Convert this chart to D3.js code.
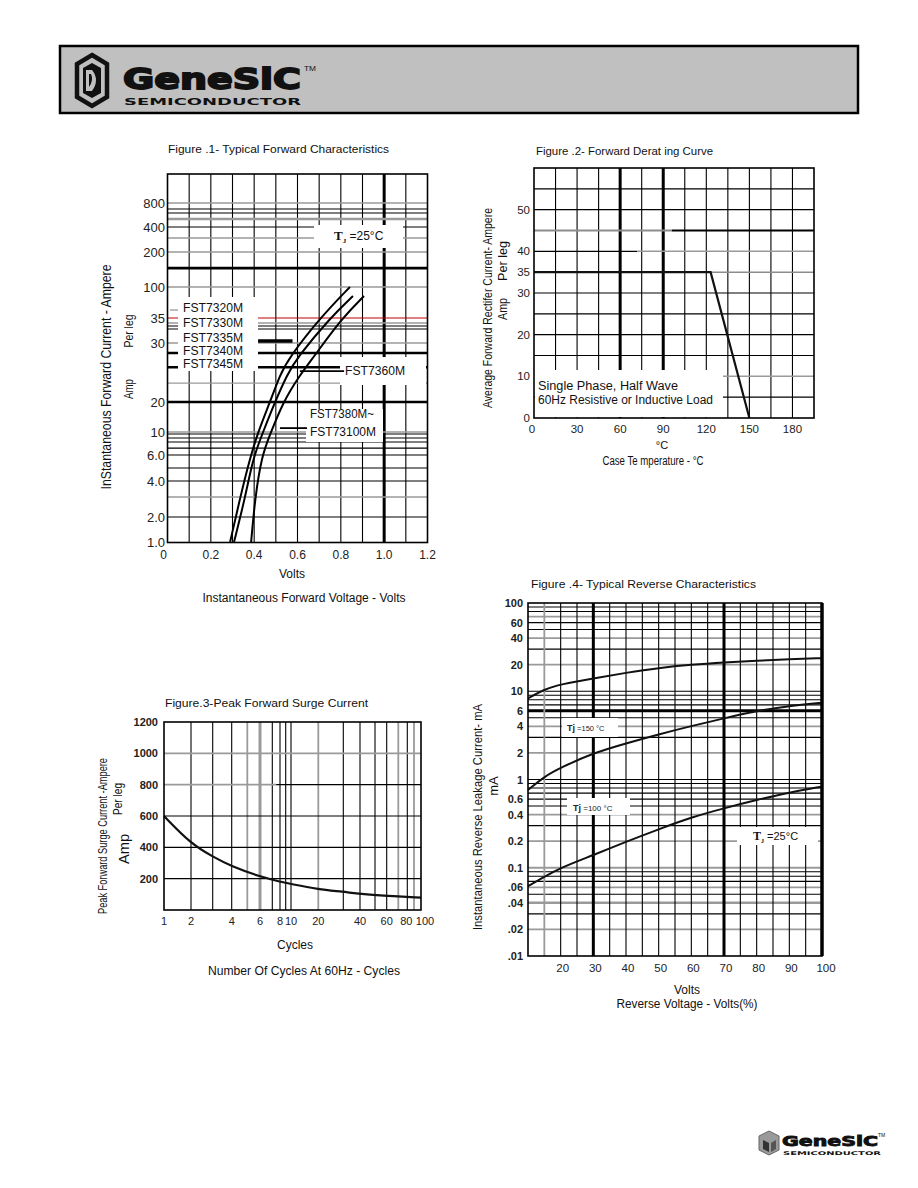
<!DOCTYPE html>
<html><head><meta charset="utf-8">
<script src="https://cdn.jsdelivr.net/npm/d3@7"></script>
<style>body{margin:0;background:#fff}svg{display:block}</style>
</head><body>
<svg id="page" width="918" height="1188"></svg>
<script>
// ================= DATA =================
// Figure 1 - Typical Forward Characteristics
const fig1XTicks = [0, 0.2, 0.4, 0.6, 0.8, 1.0, 1.2];
const fig1XTickLabels = ["0", "0.2", "0.4", "0.6", "0.8", "1.0", "1.2"];
const fig1YTicks = [1, 2, 4, 6, 10, 20, 30, 35, 100, 200, 400, 800];
const fig1YTickLabels = ["1.0", "2.0", "4.0", "6.0", "10", "20", "30", "35", "100", "200", "400", "800"];
const fig1CurveA = [[0.289,1],[0.335,3.06],[0.381,5.77],[0.418,10],[0.473,20],[0.519,24.6],[0.561,27.5],[0.704,35],[0.842,100]];
const fig1CurveB = [[0.307,1],[0.358,3.06],[0.395,5.77],[0.436,9.5],[0.496,20],[0.552,24.6],[0.598,27.5],[0.750,35],[0.856,81]];
const fig1CurveC = [[0.386,1],[0.404,3.06],[0.436,6],[0.473,9.5],[0.533,20],[0.612,24.6],[0.672,27.5],[0.806,35],[0.907,81]];
const fig1SeriesLabels = ["FST7320M", "FST7330M", "FST7335M", "FST7340M", "FST7345M"];
const fig1GridBlack = [700, 633, 400, 33.4, 32.8, 9.65, 8.96, 8.26, 7.2, 6, 5, 4, 2];
const fig1GridGrey = [800, 533, 312, 200, 100, 34, 30, 23.2, 10, 3.11];
const fig1GridThick = [154, 28.3, 25.9, 20];
const fig1GridRed = [35];

// Figure 2 - Forward Derating Curve
const fig2XTicks = [0, 30, 60, 90, 120, 150, 180];
const fig2YTicks = [0, 10, 20, 30, 35, 40, 50];
const fig2Curve = [[0, 35], [123, 35], [150, 0]];

// Figure 3 - Peak Forward Surge Current
const fig3XTicks = [1, 2, 4, 6, 8, 10, 20, 40, 60, 80, 100];
const fig3YTicks = [200, 400, 600, 800, 1000, 1200];
const fig3Cycles = [1, 2, 3, 4, 6, 8, 10, 20, 30, 40, 60, 100];
const fig3Current = [600, 422, 341, 277, 213, 181, 166, 132, 117, 102, 90, 79];
const fig3GridBlack = [2, 3, 4, 7, 8, 9, 10, 30, 40, 50, 60, 80];
const fig3GridGrey = [5, 6, 20, 70, 90];

// Figure 4 - Typical Reverse Characteristics
const fig4XTicks = [20, 30, 40, 50, 60, 70, 80, 90, 100];
const fig4YTicks = [100, 60, 40, 20, 10, 6, 4, 2, 1, 0.6, 0.4, 0.2, 0.1, 0.06, 0.04, 0.02, 0.01];
const fig4YTickLabels = ["100", "60", "40", "20", "10", "6", "4", "2", "1", "0.6", "0.4", "0.2", "0.1", ".06", ".04", ".02", ".01"];
const fig4Volts = [10, 15, 20, 30, 40, 50, 60, 70, 80, 90, 100];
const fig4Tj150 = [8.3, 10.5, 12.0, 14.0, 16.2, 18.4, 20.0, 21.2, 22.2, 23.0, 23.7];
const fig4Tj100 = [0.76, 1.08, 1.36, 2.0, 2.57, 3.25, 4.04, 4.93, 6.0, 6.8, 7.4];
const fig4Tj25 = [0.062, 0.079, 0.1, 0.139, 0.197, 0.273, 0.373, 0.472, 0.586, 0.715, 0.83];

// ================= LAYOUT =================
const NARROW = "'Liberation Sans Narrow','Liberation Sans',Arial,sans-serif";
const SANS = "'Liberation Sans',Arial,sans-serif";
const svg = d3.select("#page");

function label(g, x, y, s, o = {}) {
  const t = g.append("text").attr("x", x).attr("y", y).text(s)
    .attr("font-family", o.family || SANS)
    .attr("font-size", o.size || 11)
    .attr("fill", o.fill || "#111")
    .attr("text-anchor", o.anchor || "start");
  if (o.weight) t.attr("font-weight", o.weight);
  if (o.len) t.attr("textLength", o.len).attr("lengthAdjust", "spacingAndGlyphs");
  if (o.rot) t.attr("transform", `rotate(-90,${x},${y})`);
  return t;
}
function hline(g, y, x1, x2, color, w) {
  g.append("line").attr("x1", x1).attr("x2", x2).attr("y1", y).attr("y2", y)
    .attr("stroke", color).attr("stroke-width", w);
}
function vline(g, x, y1, y2, color, w) {
  g.append("line").attr("x1", x).attr("x2", x).attr("y1", y1).attr("y2", y2)
    .attr("stroke", color).attr("stroke-width", w);
}
function whiteBox(g, x, y, w, h) {
  g.append("rect").attr("x", x).attr("y", y).attr("width", w).attr("height", h).attr("fill", "#fff");
}

// ---------- Header ----------
const hdr = svg.append("g");
hdr.append("rect").attr("x", 60).attr("y", 46).attr("width", 798).attr("height", 67)
  .attr("fill", "#c0c0c0").attr("stroke", "#000").attr("stroke-width", 2.5);
hdr.append("path").attr("d", "M92,55 L107,64 L107,97 L92,106 L77,97 L77,64 Z")
  .attr("fill", "none").attr("stroke", "#111").attr("stroke-width", 4.5);
hdr.append("path").attr("d", "M92,63 L101,68 L101,93 L92,98 L83,93 L83,68 Z").attr("fill", "#111");
hdr.append("path").attr("d", "M86,70 L92,70 Q100,80 92,91 L86,91 Z M89,74 L89,87 Q94,80 91,74 Z")
  .attr("fill", "#c0c0c0").attr("fill-rule", "evenodd");
label(hdr, 123, 89, "GeneSiC", { family: "'DejaVu Sans',sans-serif", size: 29, weight: 900, fill: "#111", len: 178 })
  .attr("stroke", "#111").attr("stroke-width", 1.8);
label(hdr, 304, 71, "TM", { size: 8, fill: "#111", len: 12 });
label(hdr, 124, 105, "SEMICONDUCTOR", { family: "'DejaVu Sans',sans-serif", size: 8, weight: 700, fill: "#111", len: 177 });

// ---------- Footer ----------
const ftr = svg.append("g");
ftr.append("path").attr("d", "M769,1131 L779,1136 L779,1150 L769,1155 L759,1150 L759,1136 Z")
  .attr("fill", "#9a9a9a").attr("stroke", "#666").attr("stroke-width", 1);
ftr.append("path").attr("d", "M763,1140 L769,1143 L769,1152 L763,1149 Z").attr("fill", "#333");
ftr.append("path").attr("d", "M771,1143 L776,1140 L776,1149 L771,1152 Z").attr("fill", "#555");
label(ftr, 782, 1146, "GeneSiC", { family: "'DejaVu Sans',sans-serif", size: 14, weight: 900, fill: "#111", len: 96 })
  .attr("stroke", "#111").attr("stroke-width", 0.9);
label(ftr, 878, 1137, "TM", { size: 5, fill: "#111" });
label(ftr, 783, 1155, "SEMICONDUCTOR", { family: "'DejaVu Sans',sans-serif", size: 5, weight: 700, fill: "#111", len: 98 });

// ================= FIGURE 1 =================
(function () {
  const g = svg.append("g");
  const L = 167.5, R = 427.5, T = 174, B = 542.5;
  const x = d3.scaleLinear().domain([0, 1.2]).range([L, R]);
  // chart paper uses an irregular current axis: piecewise scale through the printed tick positions
  const y = d3.scaleLinear().domain(fig1YTicks).range([542, 517, 481, 455, 432, 402, 343, 318, 287, 252, 227, 203]);

  d3.range(1, 12).forEach(i => {
    const v = i / 10;
    vline(g, x(v), T, B, "#000", Math.abs(v - 1.0) < 1e-6 ? 3 : 1.1);
  });
  fig1GridGrey.forEach(v => hline(g, y(v), L, R, "#9a9a9a", v === 533 ? 2.5 : 1.3));
  fig1GridBlack.forEach(v => hline(g, y(v), L, R, "#000", 1.1));
  fig1GridThick.forEach(v => hline(g, y(v), L, R, "#000", 2.6));
  fig1GridRed.forEach(v => hline(g, y(v), L, R, "#c00000", 1.2));

  whiteBox(g, 178, 297, 80, 74);
  whiteBox(g, 314, 225, 89, 23);
  whiteBox(g, 340, 357, 86, 28);
  whiteBox(g, 306, 409, 77, 33);

  hline(g, 310, 170, 178, "#9a9a9a", 1.3);
  g.append("line").attr("x1", x(0.418)).attr("x2", x(0.577)).attr("y1", y(30.4)).attr("y2", y(30.4))
    .attr("stroke", "#000").attr("stroke-width", 3.5);
  g.append("line").attr("x1", x(0.611)).attr("x2", x(0.815)).attr("y1", y(25.25)).attr("y2", y(25.25))
    .attr("stroke", "#000").attr("stroke-width", 1.8);
  g.append("line").attr("x1", x(0.519)).attr("x2", x(0.644)).attr("y1", y(11.3)).attr("y2", y(11.3))
    .attr("stroke", "#000").attr("stroke-width", 1.8);

  const line = d3.line().x(d => x(d[0])).y(d => y(d[1])).curve(d3.curveBasis);
  [fig1CurveA, fig1CurveB, fig1CurveC].forEach(c => {
    g.append("path").attr("d", line(c)).attr("fill", "none").attr("stroke", "#000").attr("stroke-width", 2);
  });

  g.append("rect").attr("x", L).attr("y", T).attr("width", R - L).attr("height", B - T)
    .attr("fill", "none").attr("stroke", "#000").attr("stroke-width", 1.6);

  fig1YTicks.forEach((v, i) => label(g, 165, y(v) + 4.5, fig1YTickLabels[i], { family: NARROW, size: 13, anchor: "end", fill: "#222" }));
  fig1XTicks.forEach((v, i) => label(g, x(v) - (i === 0 ? 4 : 0), 559, fig1XTickLabels[i], { family: SANS, size: 12, anchor: "middle", fill: "#222" }));

  const sy = [312, 327, 342, 355, 368];
  fig1SeriesLabels.forEach((s, i) => label(g, 183, sy[i], s, { family: SANS, size: 12, fill: "#111", len: 60 }));
  label(g, 345, 375, "FST7360M", { size: 12, len: 60 });
  label(g, 310, 418, "FST7380M~", { size: 12, len: 64 });
  label(g, 310, 436, "FST73100M", { size: 12, len: 66 });
  const tj = label(g, 334, 240, "T", { family: "'Liberation Serif',serif", size: 13, weight: 700 });
  tj.append("tspan").attr("font-size", 7).attr("dy", 3).text("J");
  tj.append("tspan").attr("font-size", 12).attr("dy", -3).attr("font-family", SANS).attr("font-weight", 400).text(" =25\u00B0C");

  label(g, 168, 153, "Figure .1- Typical Forward Characteristics", { size: 11, len: 221 });
  label(g, 292, 578, "Volts", { size: 12, anchor: "middle", family: NARROW });
  label(g, 304, 602, "Instantaneous  Forward Voltage - Volts", { size: 12, anchor: "middle", len: 203 });
  label(g, 111, 377, "InStantaneous Forward Current - Ampere", { family: NARROW, size: 14, anchor: "middle", len: 225, rot: true });
  label(g, 133, 331, "Per leg", { family: NARROW, size: 13, anchor: "middle", len: 33, rot: true });
  label(g, 133, 389, "Amp", { family: NARROW, size: 13, anchor: "middle", len: 20, rot: true });
})();

// ================= FIGURE 2 =================
(function () {
  const g = svg.append("g");
  const L = 534, R = 814, T = 168, B = 418;
  const x = d3.scaleLinear().domain([0, 195]).range([L, R]);
  const y = d3.scaleLinear().domain([0, 60]).range([B, T]);

  d3.range(15, 195, 15).forEach(v => vline(g, x(v), T, B, "#000", (v === 60 || v === 90) ? 3 : 1.1));
  d3.range(5, 60, 5).forEach(v => {
    if (v === 45) {
      hline(g, y(v), L, x(96), "#8c8c8c", 2);
      hline(g, y(v), x(96), R, "#000", 2);
    } else if (v === 40) {
      hline(g, y(v), L, x(72), "#000", 1.1);
      hline(g, y(v), x(72), R, "#9a9a9a", 1.5);
    } else if (v === 35) {
      hline(g, y(v), L, R, "#8c8c8c", 1.5);
    } else if (v === 10) {
      hline(g, y(v), x(131), R, "#9a9a9a", 1.5);
    } else hline(g, y(v), L, R, "#000", 1.1);
  });
  whiteBox(g, L + 1, 370, 188, 47);

  g.append("path").attr("d", d3.line().x(d => x(d[0])).y(d => y(d[1]))(fig2Curve))
    .attr("fill", "none").attr("stroke", "#111").attr("stroke-width", 2.2);

  g.append("rect").attr("x", L).attr("y", T).attr("width", R - L).attr("height", B - T)
    .attr("fill", "none").attr("stroke", "#000").attr("stroke-width", 1.6);

  fig2YTicks.forEach(v => label(g, 530, y(v) + 4, String(v), { size: 11.5, anchor: "end", fill: "#222" }));
  fig2XTicks.forEach(v => label(g, x(v) - (v === 0 ? 2 : 0), 433, String(v), { size: 11.5, anchor: "middle", fill: "#222" }));

  label(g, 538, 390, "Single Phase,  Half    Wave", { size: 12, len: 140 });
  label(g, 538, 404, "60Hz   Resistive or Inductive Load", { size: 12, len: 175 });

  label(g, 536, 155, "Figure .2- Forward Derat ing Curve", { size: 11, len: 177 });
  label(g, 662, 449, "\u00B0C", { size: 11, anchor: "middle" });
  label(g, 653, 465, "Case Te mperature  -  \u00B0C", { size: 12, anchor: "middle", len: 101 });
  label(g, 492, 308, "Average  Forward  Rectifer  Current-  Ampere", { family: NARROW, size: 12.5, anchor: "middle", len: 200, rot: true });
  label(g, 507, 261, "Per leg", { family: NARROW, size: 13, anchor: "middle", len: 40, rot: true });
  label(g, 507, 309, "Amp", { family: NARROW, size: 13, anchor: "middle", len: 22, rot: true });
})();

// ================= FIGURE 3 =================
(function () {
  const g = svg.append("g");
  const L = 164, R = 421, T = 722, B = 910;
  // chart paper has a distorted logarithmic cycle axis: piecewise scale through its printed grid
  const x = d3.scaleLinear()
    .domain([1, 2, 3, 4, 5, 6, 7, 8, 9, 10, 20, 30, 40, 50, 60, 70, 80, 90, 100])
    .range([164, 191, 212.7, 231.7, 247.3, 260, 272.3, 280, 285.7, 291, 318.3, 343.3, 360, 375, 386.7, 398.3, 407.3, 414, 421]);
  const y = d3.scaleLinear().domain([0, 1200]).range([B, T]);

  fig3GridGrey.forEach(v => vline(g, x(v), T, B, "#9a9a9a", v === 6 ? 3 : 1.8));
  fig3GridBlack.forEach(v => vline(g, x(v), T, B, "#000", 1.1));
  [200, 400, 600].forEach(v => hline(g, y(v), L, R, "#000", 1.1));
  hline(g, y(800), L, x(7.5), "#9a9a9a", 1.8);
  hline(g, y(800), x(7.5), R, "#000", 1.1);
  hline(g, y(1000), L, R, "#9a9a9a", 1.8);

  const line = d3.line().x((d, i) => x(fig3Cycles[i])).y(d => y(d)).curve(d3.curveBasis);
  g.append("path").attr("d", line(fig3Current)).attr("fill", "none").attr("stroke", "#111").attr("stroke-width", 2.2);

  g.append("rect").attr("x", L).attr("y", T).attr("width", R - L).attr("height", B - T)
    .attr("fill", "none").attr("stroke", "#000").attr("stroke-width", 1.6);

  fig3YTicks.forEach(v => label(g, 158, y(v) + 4, String(v), { size: 11, anchor: "end", fill: "#222", weight: 600 }));
  fig3XTicks.forEach(v => label(g, x(v) + (v === 100 ? 4 : v === 80 ? -1 : 0), 925, String(v), { size: 11, anchor: "middle", fill: "#222" }));

  label(g, 165, 707, "Figure.3-Peak Forward Surge Current", { size: 11, len: 203 });
  label(g, 295, 949, "Cycles", { size: 12, anchor: "middle" });
  label(g, 304, 975, "Number Of Cycles At 60Hz - Cycles", { size: 12, anchor: "middle", len: 192 });
  label(g, 107, 836, "Peak Forward Surge Current -Ampere", { family: NARROW, size: 12, anchor: "middle", len: 156, rot: true });
  label(g, 122, 799, "Per  leg", { family: NARROW, size: 12, anchor: "middle", len: 32, rot: true });
  label(g, 129, 849, "Amp", { family: SANS, size: 15, anchor: "middle", len: 30, rot: true });
})();

// ================= FIGURE 4 =================
(function () {
  const g = svg.append("g");
  const L = 528, R = 822, T = 603, B = 956;
  const x = d3.scaleLinear().domain([10, 100]).range([L, R]);
  const y = d3.scaleLog().domain([0.01, 100]).range([B, T]);

  [0.01, 0.1, 1, 10].forEach(dec => {
    for (let m = 1; m <= 9; m++) {
      const v = m * dec;
      if (v <= 0.01) continue;
      const grey = (m === 2 || m === 4 || (dec === 0.01 && m === 6) || (dec === 0.1 && m === 1) || (dec === 10 && m === 7));
      const thick = (dec === 1 && m === 6);
      hline(g, y(v), L, R, grey ? "#9a9a9a" : "#000", thick ? 3 : grey ? (m === 4 && dec === 0.01 ? 2.5 : 1.8) : 1.1);
    }
  });
  d3.range(15, 100, 5).forEach(v => {
    if (v === 15) vline(g, x(v), T, B, "#9a9a9a", 1.8);
    else vline(g, x(v), T, B, "#000", (v === 30 || v === 70) ? 3 : 1.1);
  });

  whiteBox(g, 562, 718, 56, 19);
  whiteBox(g, 567, 798, 63, 17);
  whiteBox(g, 737, 827, 81, 18);

  const line = d3.line().x((d, i) => x(fig4Volts[i])).y(d => y(d)).curve(d3.curveBasis);
  [fig4Tj150, fig4Tj100, fig4Tj25].forEach(s => {
    g.append("path").attr("d", line(s)).attr("fill", "none").attr("stroke", "#111").attr("stroke-width", 2);
  });

  g.append("rect").attr("x", L).attr("y", T).attr("width", R - L).attr("height", B - T)
    .attr("fill", "none").attr("stroke", "#000").attr("stroke-width", 1.6);
  vline(g, R, T, B, "#000", 3.5);

  fig4YTicks.forEach((v, i) => label(g, 523, y(v) + 4, fig4YTickLabels[i], { size: 11, anchor: "end", fill: "#222", weight: 600 }));
  fig4XTicks.forEach(v => label(g, x(v) + (v === 100 ? 2 : 0) + 2, 972, String(v), { size: 11.5, anchor: "middle", fill: "#222" }));

  const t1 = label(g, 567, 731, "Tj", { size: 9, weight: 700, fill: "#222" });
  t1.append("tspan").attr("font-size", 7.5).attr("font-weight", 400).text(" =150 \u00B0C");
  const t2 = label(g, 573, 811, "Tj", { size: 9, weight: 700, fill: "#222" });
  t2.append("tspan").attr("font-size", 8).attr("font-weight", 400).text(" =100 \u00B0C");
  const t3 = label(g, 753, 840, "T", { family: "'Liberation Serif',serif", size: 12, weight: 700 });
  t3.append("tspan").attr("font-size", 6).attr("dy", 3).text("J");
  t3.append("tspan").attr("font-size", 11).attr("dy", -3).attr("font-family", SANS).attr("font-weight", 400).text(" =25\u00B0C");

  label(g, 531, 588, "Figure .4- Typical Reverse  Characteristics", { size: 11.5, len: 225 });
  label(g, 687, 994, "Volts", { size: 12, anchor: "middle" });
  label(g, 687, 1008, "Reverse   Voltage  - Volts(%)", { size: 12, anchor: "middle", len: 141 });
  label(g, 482, 817, "Instantaneous  Reverse  Leakage  Current-  mA", { family: NARROW, size: 12.5, anchor: "middle", len: 226, rot: true });
  label(g, 498, 786, "mA", { size: 13, anchor: "middle", rot: true });
})();
</script>
</body></html>
